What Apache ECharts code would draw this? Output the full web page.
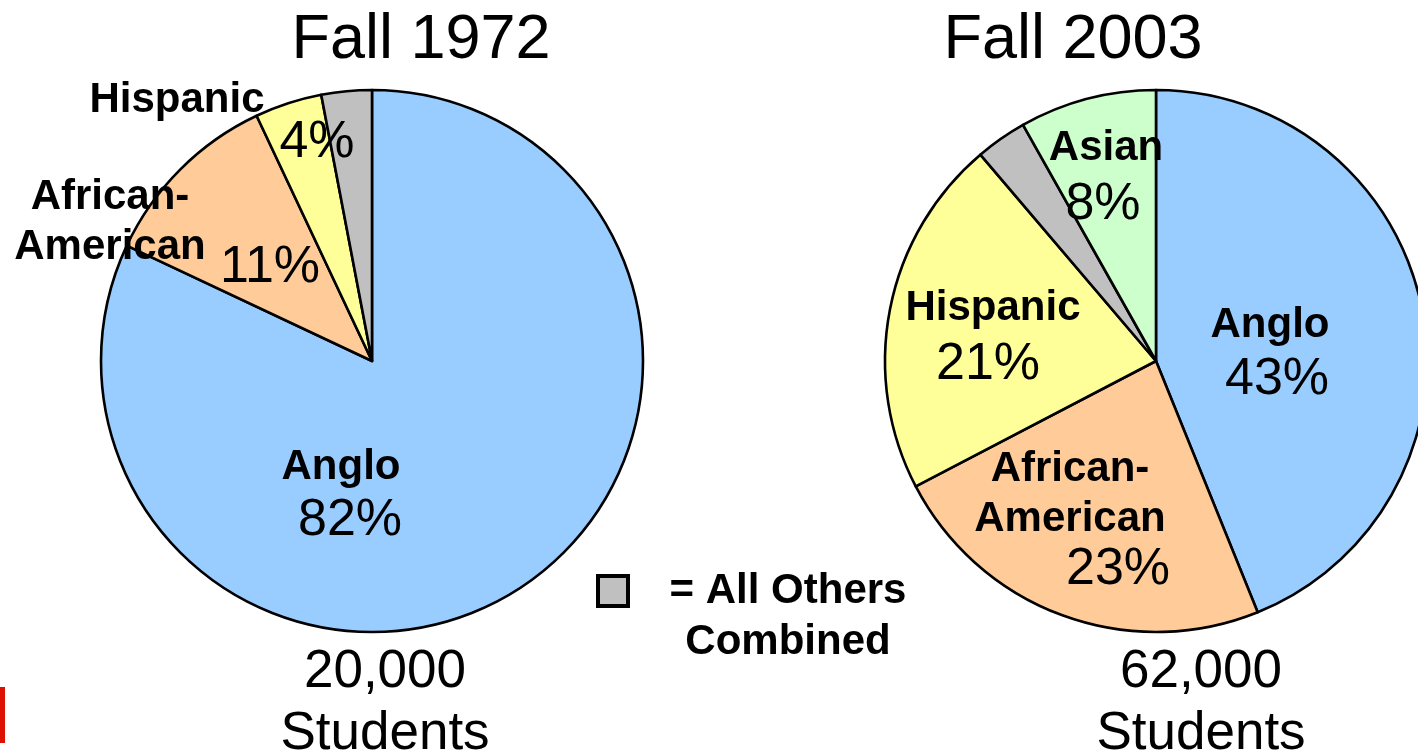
<!DOCTYPE html>
<html>
<head>
<meta charset="utf-8">
<script src="https://cdn.jsdelivr.net/npm/echarts@6/dist/echarts.min.js"></script>
<style>
  html, body { margin: 0; padding: 0; background: #fff; }
  #main { width: 1418px; height: 753px; }
</style>
</head>
<body>
<div id="main"></div>
<script>
// data
var groups1972 = ['Anglo', 'African-American', 'Hispanic', 'Others']
var pct1972 = [82, 11, 4, 3]
var groups2003 = ['Anglo', 'African-American', 'Hispanic', 'Others', 'Asian']
var pct2003 = [43, 23, 21, 3, 8]
var titles = ['Fall 1972', 'Fall 2003']
var totals = ['20,000', '62,000']

var colors = {
  'Anglo': '#99ccff',
  'African-American': '#ffcc99',
  'Hispanic': '#ffff99',
  'Others': '#c0c0c0',
  'Asian': '#ccffcc'
}

// label spots (px) for names and percents
var namePos1972 = [[341, 467], [110, 222], [177, 100], null]
var pctPos1972 = [[350, 521], [270, 268], [317, 143], null]
var namePos2003 = [[1270, 325], [1070, 494], [993, 308], null, [1106, 148]]
var pctPos2003 = [[1277, 380], [1118, 570], [988, 365], null, [1103, 205]]

var FONT = '"Liberation Sans", Arial, sans-serif'

function toData(names, vals) {
  return names.map(function (n, i) {
    return { name: n, value: vals[i], itemStyle: { color: colors[n] } }
  })
}

function layoutFrom(pos) {
  return function (params) {
    var p = pos[params.dataIndex]
    if (!p) return {}
    return { x: p[0], y: p[1], align: 'center', verticalAlign: 'middle' }
  }
}

function pieSeries(center, names, vals, namePos, pctPos) {
  var base = {
    type: 'pie',
    center: center,
    radius: 271,
    startAngle: 90,
    clockwise: true,
    animation: false,
    labelLine: { show: false }
  }
  var sectors = Object.assign({}, base, {
    data: toData(names, vals),
    itemStyle: { borderColor: '#000', borderWidth: 2.6 },
    emphasis: { disabled: true },
    label: {
      position: 'inside',
      color: '#000',
      fontFamily: FONT,
      fontWeight: 'bold',
      fontSize: 42,
      lineHeight: 50,
      formatter: function (p) {
        if (p.name === 'Others') return ''
        return p.name.replace('-', '-\n')
      }
    },
    labelLayout: layoutFrom(namePos)
  })
  var percents = Object.assign({}, base, {
    silent: true,
    data: names.map(function (n, i) { return { name: n, value: vals[i] } }),
    itemStyle: { color: 'rgba(0,0,0,0)', borderWidth: 0 },
    label: {
      position: 'inside',
      color: '#000',
      fontFamily: FONT,
      fontSize: 52,
      formatter: function (p) {
        if (p.name === 'Others') return ''
        return p.value + '%'
      }
    },
    labelLayout: layoutFrom(pctPos)
  })
  return [sectors, percents]
}

var myChart = echarts.init(document.getElementById('main'), null, { renderer: 'canvas' })

var option = {
  backgroundColor: '#fff',
  title: [
    { text: titles[0], left: 416, top: 4, textAlign: 'center',
      textStyle: { fontFamily: FONT, fontSize: 63, fontWeight: 'normal', color: '#000' } },
    { text: titles[1], left: 1068, top: 4, textAlign: 'center',
      textStyle: { fontFamily: FONT, fontSize: 63, fontWeight: 'normal', color: '#000' } },
    { text: totals[0] + '\nStudents', left: 380, top: 636, textAlign: 'center',
      textStyle: { fontFamily: FONT, fontSize: 53, fontWeight: 'normal', color: '#000', lineHeight: 62 } },
    { text: totals[1] + '\nStudents', left: 1196, top: 636, textAlign: 'center',
      textStyle: { fontFamily: FONT, fontSize: 53, fontWeight: 'normal', color: '#000', lineHeight: 62 } }
  ],
  graphic: [
    { type: 'rect', shape: { x: 598, y: 576, width: 30, height: 30 },
      style: { fill: colors['Others'], stroke: '#000', lineWidth: 4 } },
    { type: 'text', x: 788, y: 617,
      style: { text: '= All Others\nCombined', align: 'center', verticalAlign: 'middle',
        font: 'bold 42px ' + FONT, lineHeight: 51, fill: '#000' } },
    { type: 'rect', shape: { x: 0, y: 687, width: 5, height: 56 },
      style: { fill: '#dd1100' } }
  ],
  series: []
    .concat(pieSeries([372, 361], groups1972, pct1972, namePos1972, pctPos1972))
    .concat(pieSeries([1156, 361], groups2003, pct2003, namePos2003, pctPos2003))
}

myChart.setOption(option)
</script>
</body>
</html>
